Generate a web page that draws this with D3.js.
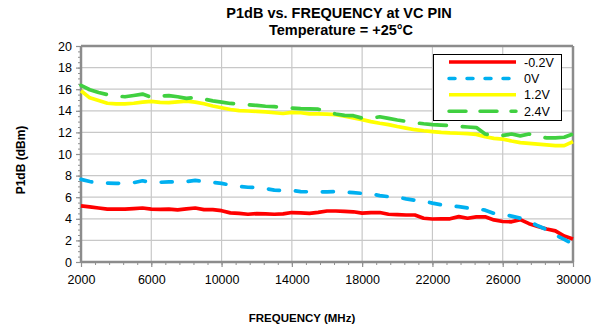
<!DOCTYPE html>
<html>
<head>
<script src="https://d3js.org/d3.v7.min.js"></script>
<style>
  body { margin: 0; background: #fff; }
  text { font-family: "Liberation Sans", Arial, sans-serif; }
</style>
</head>
<body>
<svg id="chart" width="597" height="327"></svg>
<script>
// frequency points (MHz)
var freq = [2000, 2500, 3000, 3500, 4000, 4500, 5000, 5500, 6000, 6500,
            7000, 7500, 8000, 8500, 9000, 9500, 10000, 10500, 11000, 11500,
            12000, 12500, 13000, 13500, 14000, 14500, 15000, 15500, 16000, 16500,
            17000, 17500, 18000, 18500, 19000, 19500, 20000, 20500, 21000, 21500,
            22000, 22500, 23000, 23500, 24000, 24500, 25000, 25500, 26000, 26500,
            27000, 27500, 28000, 28500, 29000, 29500, 30000];

// P1dB (dBm) for each VC setting
var vcM02 = [5.2, 5.1, 5.0, 4.9, 4.9, 4.9, 4.95, 5.0, 4.9, 4.88,
             4.9, 4.82, 4.92, 5.0, 4.85, 4.85, 4.75, 4.55, 4.5, 4.42,
             4.48, 4.45, 4.42, 4.45, 4.58, 4.55, 4.5, 4.6, 4.72, 4.72,
             4.68, 4.65, 4.52, 4.58, 4.58, 4.42, 4.38, 4.35, 4.35, 4.05,
             3.98, 4.0, 4.0, 4.2, 4.05, 4.18, 4.18, 3.9, 3.75, 3.72,
             3.92, 3.55, 3.28, 3.05, 2.88, 2.4, 2.12];
var vc0 = [7.65, 7.45, 7.32, 7.3, 7.28, 7.3, 7.35, 7.52, 7.35, 7.38,
           7.42, 7.4, 7.45, 7.55, 7.45, 7.38, 7.28, 7.12, 7.0, 6.92,
           6.9, 6.8, 6.65, 6.62, 6.62, 6.52, 6.5, 6.48, 6.5, 6.52,
           6.48, 6.42, 6.35, 6.3, 6.15, 6.05, 6.0, 5.85, 5.72, 5.65,
           5.45, 5.3, 5.22, 5.12, 5.0, 4.95, 4.8, 4.5, 4.4, 4.25,
           4.05, 3.75, 3.35, 3.0, 2.5, 2.1, 1.65];
var vc12 = [15.85, 15.2, 14.95, 14.7, 14.65, 14.65, 14.7, 14.8, 14.88, 14.78,
            14.75, 14.82, 14.9, 14.8, 14.65, 14.45, 14.28, 14.12, 14.02, 13.98,
            13.95, 13.9, 13.82, 13.75, 13.85, 13.82, 13.72, 13.72, 13.7, 13.65,
            13.5, 13.35, 13.18, 13.0, 12.85, 12.72, 12.55, 12.4, 12.25, 12.15,
            12.08, 12.0, 11.95, 11.92, 11.88, 11.82, 11.6, 11.45, 11.38, 11.2,
            11.05, 10.98, 10.92, 10.85, 10.77, 10.78, 11.15];
var vc24 = [16.35, 15.95, 15.7, 15.5, 15.38, 15.3, 15.42, 15.55, 15.25, 15.35,
            15.4, 15.3, 15.15, 15.25, 15.08, 14.92, 14.8, 14.68, 14.62, 14.55,
            14.5, 14.42, 14.38, 14.32, 14.25, 14.2, 14.18, 14.15, 13.95, 13.7,
            13.58, 13.55, 13.32, 13.3, 13.45, 13.3, 13.15, 13.02, 12.9, 12.8,
            12.72, 12.68, 12.62, 12.55, 12.5, 12.45, 11.85, 11.7, 11.72, 11.85,
            11.68, 11.85, 11.58, 11.5, 11.5, 11.55, 11.85];

var seriesNames = ["-0.2V", "0V", "1.2V", "2.4V"];
var xTicks = [2000, 6000, 10000, 14000, 18000, 22000, 26000, 30000];
var yTicks = [0, 2, 4, 6, 8, 10, 12, 14, 16, 18, 20];

var series = [
  { name: seriesNames[0], values: vcM02, color: "#ff0000", dash: null, legDash: null },
  { name: seriesNames[1], values: vc0, color: "#00b0f0", dash: "11,16", legDash: "6,12" },
  { name: seriesNames[2], values: vc12, color: "#ffff00", dash: null, legDash: null },
  { name: seriesNames[3], values: vc24, color: "#40d040", dash: "27,16", legDash: "17,14" }
];

var svg = d3.select("#chart");
var pLeft = 81, pRight = 573, pTop = 46, pBottom = 262;

var x = d3.scaleLinear().domain([2000, 30000]).range([pLeft, pRight]);
var y = d3.scaleLinear().domain([0, 20]).range([pBottom, pTop]);

// gridlines
svg.append("g").selectAll("line").data(yTicks.slice(1)).enter().append("line")
  .attr("x1", pLeft).attr("x2", pRight)
  .attr("y1", function(d) { return y(d); }).attr("y2", function(d) { return y(d); })
  .attr("stroke", "#c8c8c8").attr("stroke-width", 1.2);
svg.append("g").selectAll("line").data(xTicks.slice(1)).enter().append("line")
  .attr("y1", pTop).attr("y2", pBottom)
  .attr("x1", function(d) { return x(d); }).attr("x2", function(d) { return x(d); })
  .attr("stroke", "#c8c8c8").attr("stroke-width", 1.2);

// minor ticks
var yMinor = d3.axisLeft(y).ticks(50).tickSize(3).tickFormat("");
svg.append("g").attr("transform", "translate(" + pLeft + ",0)").call(yMinor)
  .call(function(g) { g.select(".domain").remove(); })
  .selectAll("line").attr("stroke", "#909090");
var xMinor = d3.axisBottom(x).tickValues(d3.range(2000, 30001, 800)).tickSize(3).tickFormat("");
svg.append("g").attr("transform", "translate(0," + pBottom + ")").call(xMinor)
  .call(function(g) { g.select(".domain").remove(); })
  .selectAll("line").attr("stroke", "#909090");

// major axes
var yAxis = d3.axisLeft(y).tickValues(yTicks).tickSize(5).tickPadding(4);
var gy = svg.append("g").attr("transform", "translate(" + pLeft + ",0)").call(yAxis);
var xAxis = d3.axisBottom(x).tickValues(xTicks).tickSize(5).tickPadding(8).tickFormat(d3.format("d"));
var gx = svg.append("g").attr("transform", "translate(0," + pBottom + ")").call(xAxis);
[gx, gy].forEach(function(g) {
  g.select(".domain").remove();
  g.selectAll("line").attr("stroke", "#909090").attr("stroke-width", 1.2);
  g.selectAll("text").attr("font-size", "12.5px").attr("fill", "#000")
    .style("font-family", "'Liberation Sans', Arial, sans-serif");
});

// frame
svg.append("line").attr("x1", pLeft).attr("x2", pLeft).attr("y1", pTop).attr("y2", pBottom)
  .attr("stroke", "#8c8c8c").attr("stroke-width", 2.5);
svg.append("line").attr("x1", pLeft).attr("x2", pRight).attr("y1", pBottom).attr("y2", pBottom)
  .attr("stroke", "#8c8c8c").attr("stroke-width", 2.5);
svg.append("line").attr("x1", pLeft).attr("x2", pRight).attr("y1", pTop).attr("y2", pTop)
  .attr("stroke", "#8c8c8c").attr("stroke-width", 2.5);
svg.append("line").attr("x1", pRight).attr("x2", pRight).attr("y1", pTop).attr("y2", pBottom)
  .attr("stroke", "#8c8c8c").attr("stroke-width", 2.5);

// data lines
var line = d3.line()
  .x(function(d, i) { return x(freq[i]); })
  .y(function(d) { return y(d); });
series.forEach(function(s) {
  svg.append("path").datum(s.values)
    .attr("d", line)
    .attr("fill", "none")
    .attr("stroke", s.color)
    .attr("stroke-width", 3.7)
    .attr("stroke-linejoin", "round")
    .attr("stroke-linecap", s.dash ? "round" : "butt")
    .attr("stroke-dasharray", s.dash);
});

// legend
var leg = svg.append("g");
leg.append("rect").attr("x", 433.5).attr("y", 54.5).attr("width", 128).attr("height", 66)
  .attr("fill", "#fff").attr("stroke", "#000").attr("stroke-width", 1);
series.forEach(function(s, i) {
  var ly = 62 + i * 16.4;
  leg.append("line").attr("x1", 449).attr("x2", 516).attr("y1", ly).attr("y2", ly)
    .attr("stroke", s.color).attr("stroke-width", 3.5)
    .attr("stroke-linecap", s.legDash ? "round" : "butt")
    .attr("stroke-dasharray", s.legDash);
  leg.append("text").attr("x", 524).attr("y", ly + 4.5)
    .attr("font-size", "12.5px").text(s.name);
});

// titles
svg.append("text").attr("x", 339).attr("y", 18).attr("text-anchor", "middle")
  .attr("font-size", "14.5px").attr("font-weight", "bold").text("P1dB vs. FREQUENCY at VC PIN");
svg.append("text").attr("x", 341).attr("y", 35).attr("text-anchor", "middle")
  .attr("font-size", "14.5px").attr("font-weight", "bold").text("Temperature = +25\u00b0C");
svg.append("text").attr("x", 302).attr("y", 322).attr("text-anchor", "middle")
  .attr("font-size", "11.5px").attr("font-weight", "bold").text("FREQUENCY (MHz)");
svg.append("text").attr("transform", "translate(25,160) rotate(-90)").attr("text-anchor", "middle")
  .attr("font-size", "12px").attr("font-weight", "bold").text("P1dB (dBm)");
</script>
</body>
</html>
